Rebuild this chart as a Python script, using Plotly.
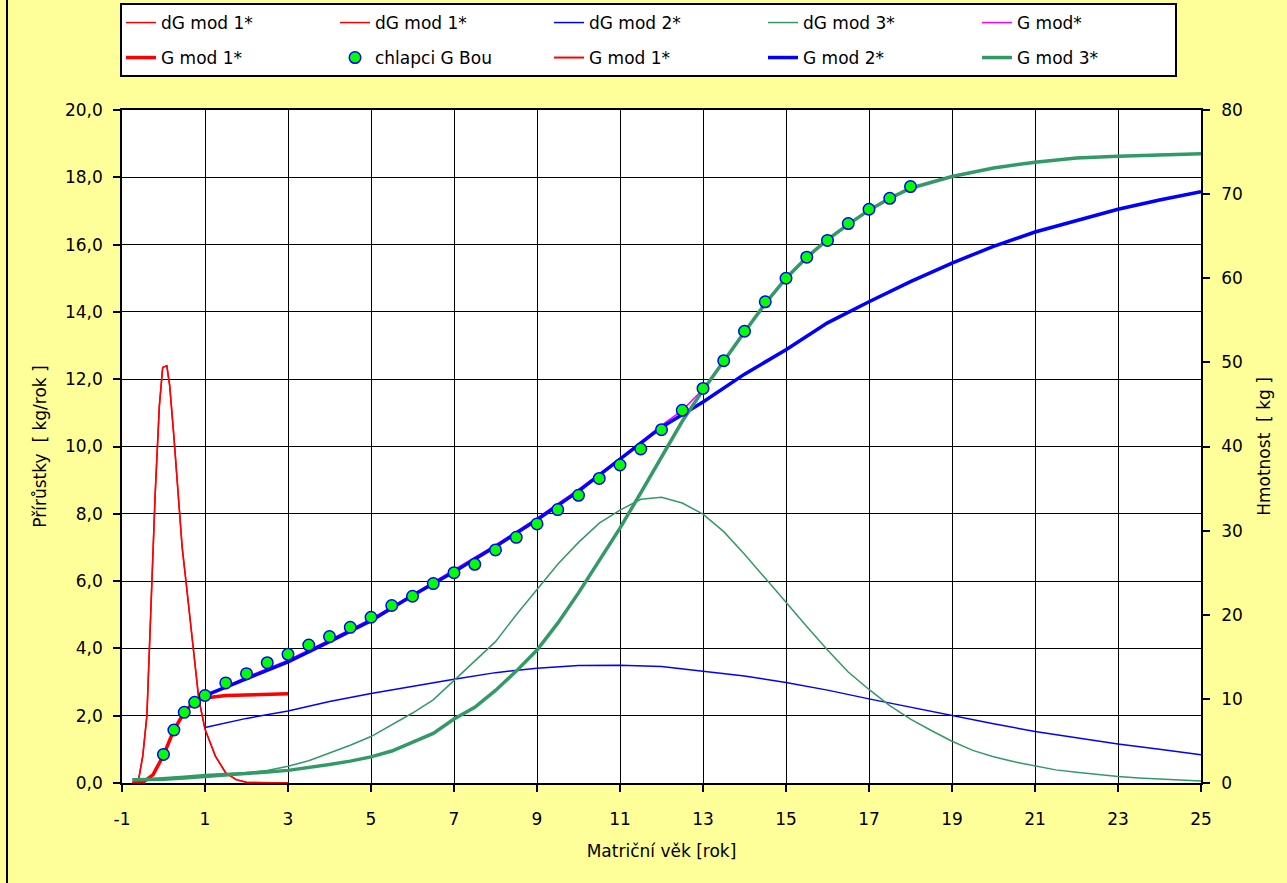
import plotly.graph_objects as go

# ---------------- data ----------------
# dG mod 1* (left axis, kg/rok)
dg1_x = [-0.75, -0.6, -0.5, -0.4, -0.3, -0.2, -0.1, -0.02, 0.08, 0.15, 0.25, 0.35, 0.45,
         0.55, 0.65, 0.75, 0.85, 1.0, 1.25, 1.5, 1.75, 2.0, 2.5, 3.0]
dg1_y = [0.0, 0.1, 0.8, 2.0, 5.3, 8.6, 11.2, 12.35, 12.4, 11.8, 10.3, 8.6, 7.0,
         5.9, 4.8, 3.6, 2.5, 1.6, 0.8, 0.3, 0.1, 0.02, 0.0, 0.0]

# dG mod 2* (left axis)
dg2_x = [1, 2, 3, 4, 5, 6, 7, 8, 9, 10, 11, 12, 13, 14, 15, 16, 17, 18, 19, 20, 21, 22, 23, 24, 25]
dg2_y = [1.65, 1.92, 2.14, 2.42, 2.66, 2.88, 3.08, 3.28, 3.41, 3.49, 3.50, 3.46, 3.33, 3.18,
         2.99, 2.76, 2.50, 2.25, 1.99, 1.76, 1.53, 1.34, 1.16, 1.00, 0.84]

# dG mod 3* (left axis)
dg3_x = [-0.75, 0, 0.5, 1, 1.5, 2, 2.5, 3, 3.5, 4, 4.5, 5, 5.5, 6, 6.5, 7, 7.5, 8, 8.5, 9,
         9.5, 10, 10.5, 11, 11.5, 12, 12.5, 13, 13.5, 14, 14.5, 15, 15.5, 16, 16.5, 17, 17.5,
         18, 18.5, 19, 19.5, 20, 20.5, 21, 21.5, 22, 22.5, 23, 23.5, 24, 24.5, 25]
dg3_y = [0.10, 0.15, 0.20, 0.25, 0.28, 0.31, 0.37, 0.50, 0.66, 0.88, 1.12, 1.38, 1.72, 2.08,
         2.47, 3.05, 3.60, 4.20, 5.00, 5.75, 6.50, 7.15, 7.72, 8.11, 8.43, 8.49, 8.32, 7.99,
         7.47, 6.80, 6.07, 5.37, 4.65, 3.95, 3.30, 2.78, 2.30, 1.90, 1.56, 1.24, 0.97, 0.78,
         0.63, 0.51, 0.39, 0.32, 0.25, 0.19, 0.15, 0.12, 0.11, 0.06]

# G mod* (right axis, kg)
gm_x = [-0.75, -0.5, -0.25, 0, 0.25, 0.5, 0.75, 1, 2, 3, 4, 5, 6, 7, 8, 9, 10, 11, 12, 12.5,
        13, 13.5, 14, 15, 16, 17, 18, 19, 20, 21, 22, 23, 24, 25]
gm_y = [0.0, 0.05, 1.0, 3.3, 6.3, 8.4, 9.7, 10.3, 12.6, 14.6, 17.0, 19.5, 22.4, 25.3, 28.3,
        31.5, 34.9, 38.6, 42.5, 44.3, 46.8, 50.2, 53.6, 60.0, 64.6, 68.1, 70.7, 72.1, 73.1,
        73.8, 74.3, 74.5, 74.7, 74.8]

# G mod 1* (right axis)
g1_x = [-0.75, -0.5, -0.25, 0, 0.25, 0.5, 0.75, 1, 1.5, 2, 2.5, 3]
g1_y = [0.0, 0.05, 1.0, 3.3, 6.3, 8.4, 9.7, 10.1, 10.4, 10.5, 10.55, 10.6]

# chlapci G Bou (right axis)
bou_x = [0, 0.25, 0.5, 0.75, 1, 1.5, 2, 2.5, 3, 3.5, 4, 4.5, 5, 5.5, 6, 6.5, 7, 7.5, 8, 8.5,
         9, 9.5, 10, 10.5, 11, 11.5, 12, 12.5, 13, 13.5, 14, 14.5, 15, 15.5, 16, 16.5, 17, 17.5, 18]
bou_y = [3.4, 6.3, 8.4, 9.6, 10.4, 11.9, 13.0, 14.3, 15.3, 16.4, 17.4, 18.5, 19.7, 21.1, 22.2,
         23.7, 25.0, 26.0, 27.7, 29.2, 30.8, 32.5, 34.2, 36.2, 37.8, 39.7, 42.0, 44.3, 46.9,
         50.2, 53.7, 57.2, 60.0, 62.5, 64.5, 66.5, 68.2, 69.5, 70.9]

# G mod 2* (right axis)
g2_x = [1, 2, 3, 4, 5, 6, 7, 8, 9, 10, 11, 12, 13, 14, 15, 16, 17, 18, 19, 20, 21, 22, 23, 24, 25]
g2_y = [10.4, 12.4, 14.4, 16.8, 19.3, 22.3, 25.1, 28.1, 31.3, 34.7, 38.5, 42.3, 45.3, 48.6,
        51.5, 54.7, 57.2, 59.6, 61.8, 63.8, 65.5, 66.9, 68.2, 69.3, 70.3]

# G mod 3* (right axis)
g3_x = [-0.75, 0, 0.5, 1, 1.5, 2, 2.5, 3, 3.5, 4, 4.5, 5, 5.5, 6, 6.5, 7, 7.5, 8, 8.5, 9,
        9.5, 10, 10.5, 11, 11.5, 12, 12.5, 13, 13.5, 14, 14.5, 15, 15.5, 16, 16.5, 17, 17.5,
        18, 19, 20, 21, 22, 23, 24, 25]
g3_y = [0.4, 0.45, 0.6, 0.75, 0.9, 1.1, 1.3, 1.5, 1.8, 2.2, 2.6, 3.1, 3.8, 4.8, 5.9, 7.6,
        9.0, 11.0, 13.3, 15.8, 19.0, 22.6, 26.4, 30.3, 34.5, 38.7, 43.0, 46.7, 50.2, 53.6,
        57.0, 60.0, 62.5, 64.6, 66.4, 68.1, 69.5, 70.7, 72.1, 73.1, 73.8, 74.3, 74.5, 74.7, 74.8]

x_tick_vals = [-1, 1, 3, 5, 7, 9, 11, 13, 15, 17, 19, 21, 23, 25]
x_tick_text = ["-1", "1", "3", "5", "7", "9", "11", "13", "15", "17", "19", "21", "23", "25"]

x_title = "Matriční věk [rok]"
y_title = "Přírůstky\u00a0 [ kg/rok ]"
y2_title = "Hmotnost\u00a0 [ kg ]"

# ---------------- styles ----------------
RED = "#FF0000"
BLUE = "#0000FF"
GREEN = "#339966"
MAGENTA = "#FF00FF"
FONT = "DejaVu Sans, Arial, sans-serif"
FS = 17
ENTRY_W = 169
W, H = 1287, 883
ML, MR, MT, MB = 122, 86, 110, 100
PW, PH = W - ML - MR, H - MT - MB


def px_x(p):
    return (p - ML) / PW


def px_y(p):
    return 1 + (MT - p) / PH


fig = go.Figure()

# left-axis series
fig.add_trace(go.Scatter(x=dg1_x, y=dg1_y, name="dG mod 1*", mode="lines",
                         line=dict(color=RED, width=1.5), legend="legend", legendrank=1))
fig.add_trace(go.Scatter(x=dg1_x, y=dg1_y, name="dG mod 1*", mode="lines",
                         line=dict(color=RED, width=1.5), legend="legend", legendrank=2))
fig.add_trace(go.Scatter(x=dg2_x, y=dg2_y, name="dG mod 2*", mode="lines",
                         line=dict(color=BLUE, width=1.5), legend="legend", legendrank=3))
fig.add_trace(go.Scatter(x=dg3_x, y=dg3_y, name="dG mod 3*", mode="lines",
                         line=dict(color=GREEN, width=1.5), legend="legend", legendrank=4))

# right-axis series
fig.add_trace(go.Scatter(x=gm_x, y=gm_y, name="G mod*", mode="lines", yaxis="y2",
                         line=dict(color=MAGENTA, width=1.5), legend="legend", legendrank=5))
fig.add_trace(go.Scatter(x=g1_x, y=g1_y, name="G mod 1*", mode="lines", yaxis="y2",
                         line=dict(color=RED, width=2), legend="legend2", legendrank=8))
fig.add_trace(go.Scatter(x=g1_x, y=g1_y, name="G mod 1*", mode="lines", yaxis="y2",
                         line=dict(color=RED, width=3.5), legend="legend2", legendrank=6))
fig.add_trace(go.Scatter(x=g2_x, y=g2_y, name="G mod 2*", mode="lines", yaxis="y2",
                         line=dict(color=BLUE, width=3.5), legend="legend2", legendrank=9))
fig.add_trace(go.Scatter(x=g3_x, y=g3_y, name="G mod 3*", mode="lines", yaxis="y2",
                         line=dict(color=GREEN, width=3.5), legend="legend2", legendrank=10))
fig.add_trace(go.Scatter(x=bou_x, y=bou_y, name="chlapci G Bou", mode="markers", yaxis="y2",
                         marker=dict(color="#00FF00", size=11.5, line=dict(color=BLUE, width=1.5)),
                         legend="legend2", legendrank=7))

axis_common = dict(showline=True, linecolor="black", linewidth=1.5, ticks="outside",
                   ticklen=7, tickcolor="black", tickwidth=1.5,
                   tickfont=dict(family=FONT, size=FS, color="black"), zeroline=False)

legend_common = dict(orientation="h", xanchor="left", yanchor="top", bgcolor="rgba(0,0,0,0)",
                     borderwidth=0, font=dict(family=FONT, size=FS, color="black"),
                     entrywidth=ENTRY_W, entrywidthmode="pixels", traceorder="normal")

fig.update_layout(
    width=W, height=H,
    paper_bgcolor="#FFFF99", plot_bgcolor="white",
    margin=dict(l=ML, r=MR, t=MT, b=MB, autoexpand=False),
    separators=", ",
    font=dict(family=FONT, size=FS, color="black"),
    showlegend=True,
    xaxis=dict(range=[-1, 25], tickmode="array", tickvals=x_tick_vals, ticktext=x_tick_text,
               showgrid=True, gridcolor="black",
               gridwidth=1.3, mirror=True, ticklabelstandoff=13,
               title=dict(text=x_title, font=dict(family=FONT, size=FS), standoff=17),
               **axis_common),
    yaxis=dict(range=[0, 20], tick0=0, dtick=2, tickformat=".1f", showgrid=True,
               gridcolor="black", gridwidth=1.3, ticklabelstandoff=7,
               title=dict(text=y_title, font=dict(family=FONT, size=FS), standoff=14),
               **axis_common),
    yaxis2=dict(range=[0, 80], tick0=0, dtick=10, overlaying="y", side="right",
                showgrid=False, ticklabelstandoff=8,
                title=dict(text=y2_title, font=dict(family=FONT, size=FS), standoff=16),
                **axis_common),
    legend=dict(x=px_x(121), y=px_y(5), **legend_common),
    legend2=dict(x=px_x(121), y=px_y(40), **legend_common),
    shapes=[
        dict(type="rect", xref="paper", yref="paper",
             x0=px_x(121), x1=px_x(1176), y0=px_y(76), y1=px_y(4),
             line=dict(color="black", width=2), fillcolor="white", layer="below"),
        dict(type="line", xref="paper", yref="paper",
             x0=px_x(7), x1=px_x(7), y0=px_y(H), y1=px_y(0),
             line=dict(color="black", width=2)),
    ],
)

fig.write_html("out.html", config={"displayModeBar": False},
               post_script="document.body.style.margin='0px';")
